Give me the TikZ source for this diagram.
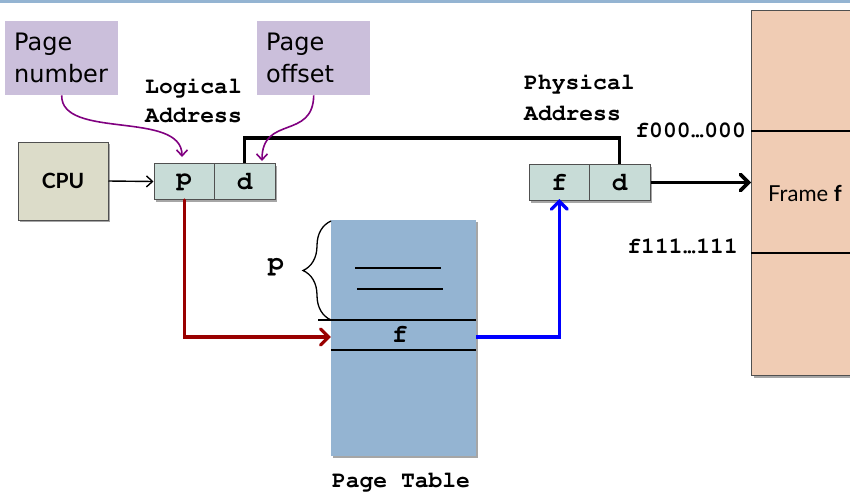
\documentclass[tikz,border=0pt]{standalone}
\usepackage[T1]{fontenc}
\usepackage{fontspec}
\setmainfont{DejaVu Sans}
\newfontfamily\labelfont{Lato}
\newfontfamily\notefont{DejaVu Sans}
\usetikzlibrary{arrows.meta,shadows,decorations.pathreplacing}

% bold Courier for addresses and captions
\newcommand\codefont{\fontencoding{T1}\fontfamily{pcr}\fontseries{b}\fontshape{n}\selectfont}
% a one-cell ellipsis for monospaced address ranges
\newcommand\celldots{\hbox to 0.6em{\hss.\kern-0.42em.\kern-0.42em.\hss}}

\definecolor{noteclr}{HTML}{CBBFDB}
\definecolor{cpuclr}{HTML}{DCDCC9}
\definecolor{cellclr}{HTML}{C8DCD7}
\definecolor{tableclr}{HTML}{94B4D2}
\definecolor{memclr}{HTML}{F0CCB4}
\definecolor{edgeclr}{HTML}{505050}
\definecolor{noteline}{HTML}{800080}
\definecolor{lookup}{HTML}{990000}
\definecolor{frameline}{HTML}{0000FF}
\definecolor{rule}{HTML}{94B4D2}

\tikzset{
  boxshadow/.style={drop shadow={shadow xshift=2pt,shadow yshift=-2pt,opacity=0.35,fill=black}},
  notebox/.style={fill=noteclr,anchor=north west,minimum width=113pt,minimum height=74pt,
    text width=95pt,inner xsep=9pt,align=left,font=\notefont\fontsize{24}{32}\selectfont},
  cpubox/.style={fill=cpuclr,draw=edgeclr,line width=1pt,boxshadow,minimum width=90pt,
    minimum height=78pt,font=\labelfont\bfseries\fontsize{21}{25}\selectfont},
  cell/.style={fill=cellclr,draw=edgeclr,line width=1pt,boxshadow,minimum width=60.5pt,
    minimum height=36pt,inner sep=0pt,font=\fontsize{26}{28}\codefont},
  codetext/.style={inner sep=0pt,font=\fontsize{23}{28}\codefont},
  notearrow/.style={draw=noteline,line width=1.6pt,-{Straight Barb[length=6pt,width=11pt]}},
  thinarrow/.style={draw=black,line width=1.4pt,-{Straight Barb[length=6pt,width=11pt]}},
  busline/.style={draw=black,line width=3.2pt},
  bigarrow/.style={draw=black,line width=3.6pt,-{Straight Barb[length=8pt,width=16pt,line cap=round]}},
  redarrow/.style={draw=lookup,line width=3.2pt,-{Straight Barb[length=8pt,width=16pt,line cap=round]}},
  bluearrow/.style={draw=frameline,line width=3.2pt,-{Straight Barb[length=8pt,width=16pt,line cap=round]}},
  rowline/.style={draw=black,line width=1.3pt},
}

\begin{document}
\begin{tikzpicture}[x=1pt,y=-1pt]
\useasboundingbox (0,0) rectangle (850,491);
\clip (0,0) rectangle (850,491);

% rule along the top edge
\fill[rule] (0,0) rectangle (850,2.5);

% callout notes
\node[notebox] (pn) at (5,21) {Page\\number};
\node[notebox] (po) at (257,21) {Page\\offset};

% CPU and the logical address
\node[cpubox] (cpu) at (63,181) {CPU};
\node[cell] (lp) at (184.25,181.5) {p};
\node[cell] (ld) at (244.75,181.5) {d};
\node[codetext,anchor=base west] (la1) at (145,93) {Logical};
\node[codetext,anchor=base west] (la2) at (145,122) {Address};

% physical address
\node[cell] (pf) at (559.25,182.5) {f};
\node[cell] (pd) at (619.75,182.5) {d};
\node[codetext,anchor=base west] (pa1) at (524,89) {Physical};
\node[codetext,anchor=base west] (pa2) at (524,120) {Address};

% physical memory with frame f
\node[fill=memclr,draw=edgeclr,line width=1.2pt,boxshadow,anchor=north west,
      minimum width=140pt,minimum height=365pt] (mem) at (751,10) {};
\draw[rowline,line width=1.1pt] (mem.west |- 0,131) -- (mem.east |- 0,131);
\draw[rowline,line width=1.1pt] (mem.west |- 0,253) -- (mem.east |- 0,253);
\node[anchor=west,inner sep=0pt,font=\labelfont\fontsize{22}{26}\selectfont] (fr) at (768,193) {Frame \textbf{f}};
\node[codetext,anchor=base east] (f0) at (746,137) {f000\celldots000};
\node[codetext,anchor=base east] (f1) at (738,253) {f111\celldots111};

% page table
\node[fill=tableclr,boxshadow,minimum width=145pt,minimum height=236pt,inner sep=0pt] (pt) at (403.5,338) {};
\draw[rowline] (355,268) -- (441,268);
\draw[rowline] (357,289) -- (443,289);
\draw[rowline] (318,320) -- (pt.east |- 0,320);
\draw[rowline] (pt.west |- 0,350) -- (pt.east |- 0,350);
\node[codetext,font=\fontsize{26}{28}\codefont] (ptf) at (400,334) {f};
\draw[rowline,decorate,decoration={brace,amplitude=28pt}] (331,320) -- (331,221);
\node[codetext,font=\fontsize{27}{30}\codefont] (pl) at (276,266) {p};
\node[codetext,anchor=base] (ptl) at (401,487) {Page Table};

% connectors
\coordinate (bus) at (400,138);
\coordinate (row) at (400,337);
\coordinate (ptip) at (182,157);
\coordinate (dtip) at (262,161);

\draw[thinarrow] (cpu.east) -- (lp.west);
\draw[busline] (ld.north) |- (bus) -| (pd.north);
\draw[bigarrow] (pd.east) -- (mem.west |- pd.east);
\draw[redarrow,line cap=round] (lp.south) |- (pt.west |- row);
\draw[bluearrow] (pt.east |- row) -| ([yshift=2pt]pf.south);
\draw[notearrow] (pn.south) .. controls (61,140) and (182,110) .. (ptip);
\draw[notearrow] (po.south) .. controls (313,140) and (262,115) .. (dtip);
\end{tikzpicture}
\end{document}
